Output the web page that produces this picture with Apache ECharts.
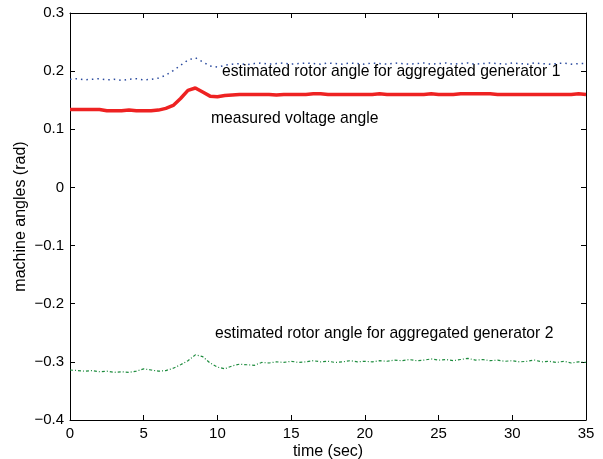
<!DOCTYPE html>
<html><head><meta charset="utf-8">
<script src="https://cdn.jsdelivr.net/npm/echarts@6/dist/echarts.min.js"></script>
<style>html,body{margin:0;padding:0;background:#fff}#c{width:603px;height:459px}</style>
</head><body><div id="c"></div>
<script>
var time = [0,0.5,1,1.5,2,2.5,3,3.5,4,4.5,5,5.5,6,6.5,7,7.5,8,8.5,9,9.5,10,10.5,11,11.5,12,12.5,13,13.5,14,14.5,15,15.5,16,16.5,17,17.5,18,18.5,19,19.5,20,20.5,21,21.5,22,22.5,23,23.5,24,24.5,25,25.5,26,26.5,27,27.5,28,28.5,29,29.5,30,30.5,31,31.5,32,32.5,33,33.5,34,34.5,35];
var measuredVoltage = [0.134,0.134,0.134,0.134,0.134,0.132,0.132,0.132,0.133,0.132,0.132,0.132,0.133,0.136,0.141,0.153,0.167,0.171,0.164,0.157,0.156,0.158,0.159,0.160,0.160,0.160,0.160,0.160,0.159,0.160,0.160,0.160,0.160,0.161,0.161,0.160,0.160,0.160,0.160,0.160,0.160,0.160,0.161,0.160,0.160,0.160,0.160,0.160,0.160,0.161,0.160,0.160,0.160,0.161,0.161,0.161,0.161,0.161,0.160,0.160,0.160,0.160,0.160,0.160,0.160,0.160,0.160,0.160,0.160,0.161,0.160];
var rotorGen1 = [0.186,0.187,0.185,0.186,0.187,0.185,0.186,0.184,0.186,0.187,0.185,0.186,0.188,0.193,0.201,0.210,0.219,0.223,0.216,0.209,0.207,0.210,0.212,0.213,0.211,0.213,0.214,0.212,0.213,0.214,0.212,0.213,0.214,0.213,0.212,0.214,0.213,0.212,0.214,0.213,0.212,0.214,0.213,0.212,0.214,0.213,0.212,0.213,0.214,0.212,0.213,0.214,0.212,0.213,0.214,0.212,0.213,0.214,0.213,0.212,0.214,0.213,0.212,0.214,0.213,0.212,0.213,0.214,0.212,0.213,0.213];
var rotorGen2 = [-0.314,-0.315,-0.316,-0.315,-0.317,-0.316,-0.318,-0.317,-0.318,-0.316,-0.312,-0.314,-0.316,-0.315,-0.311,-0.305,-0.298,-0.288,-0.291,-0.302,-0.309,-0.312,-0.307,-0.304,-0.305,-0.306,-0.301,-0.302,-0.300,-0.301,-0.299,-0.301,-0.300,-0.298,-0.300,-0.299,-0.301,-0.300,-0.298,-0.300,-0.299,-0.300,-0.298,-0.299,-0.297,-0.298,-0.296,-0.298,-0.297,-0.295,-0.297,-0.296,-0.298,-0.296,-0.294,-0.297,-0.296,-0.298,-0.297,-0.299,-0.298,-0.300,-0.299,-0.297,-0.300,-0.299,-0.301,-0.299,-0.302,-0.300,-0.301];
var xTicks = [0,5,10,15,20,25,30,35];
var yTicks = [-0.4,-0.3,-0.2,-0.1,0,0.1,0.2,0.3];
var labels = ['estimated rotor angle for aggregated generator 1','measured voltage angle','estimated rotor angle for aggregated generator 2'];

function pairs(v){ return time.map(function(t,i){ return [t, v[i]]; }); }
var font = 'Liberation Sans, Arial, sans-serif';
var chart = echarts.init(document.getElementById('c'));
var axisLine = {show:true, onZero:false, lineStyle:{color:'#000', width:1}};
var tick = {show:true, inside:true, length:5, lineStyle:{color:'#000'}};
chart.setOption({
  animation:false,
  grid:{left:70, right:17, top:13, bottom:39, containLabel:false, outerBoundsMode:'none'},
  xAxis:[
    {type:'value', min:0, max:35, interval:5, position:'bottom', axisLine:axisLine, axisTick:tick,
     axisLabel:{color:'#000', fontSize:15, fontFamily:font, margin:6},
     splitLine:{show:false}, name:'time (sec)', nameLocation:'middle', nameGap:24, nameMoveOverlap:false,
     nameTextStyle:{color:'#000', fontSize:16, fontFamily:font}},
    {type:'value', min:0, max:35, interval:5, position:'top', axisLine:axisLine, axisTick:tick,
     axisLabel:{show:false}, splitLine:{show:false}}
  ],
  yAxis:[
    {type:'value', min:-0.4, max:0.3, interval:0.1, position:'left', axisLine:axisLine, axisTick:tick,
     axisLabel:{color:'#000', fontSize:15, fontFamily:font, margin:6,
       formatter:function(v){ var s = (Math.round(v*10)/10).toString(); return s.replace('-', '\u2212'); }},
     splitLine:{show:false}, name:'machine angles (rad)', nameLocation:'middle', nameGap:41, nameMoveOverlap:false,
     nameTextStyle:{color:'#000', fontSize:16, fontFamily:font}},
    {type:'value', min:-0.4, max:0.3, interval:0.1, position:'right', axisLine:axisLine, axisTick:tick,
     axisLabel:{show:false}, splitLine:{show:false}}
  ],
  series:[
    {type:'line', data:pairs(rotorGen1), showSymbol:false, lineStyle:{color:'#2a4a9e', width:1.5, type:[1.5,4]}},
    {type:'line', data:pairs(measuredVoltage), showSymbol:false, lineStyle:{color:'#ee2222', width:3.5}},
    {type:'line', data:pairs(rotorGen2), showSymbol:false, lineStyle:{color:'#1e8c3e', width:1.2, type:[3,2,1,2]}}
  ],
  graphic:[
    {type:'text', left:222, top:64, style:{text:labels[0], font:'15.7px '+font, fill:'#000'}},
    {type:'text', left:211, top:111, style:{text:labels[1], font:'15.7px '+font, fill:'#000'}},
    {type:'text', left:215, top:326, style:{text:labels[2], font:'15.7px '+font, fill:'#000'}}
  ]
});
</script></body></html>
